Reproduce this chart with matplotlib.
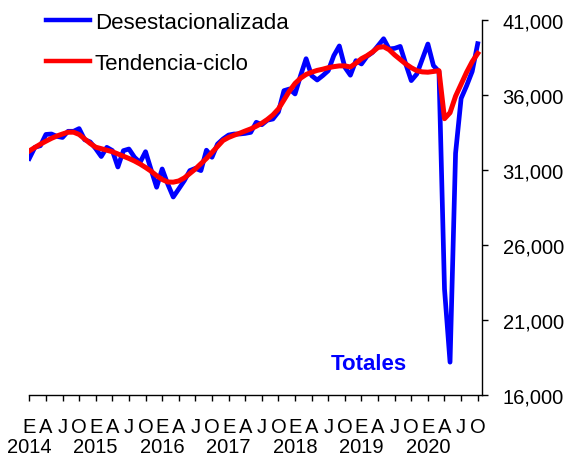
import numpy as np
import matplotlib
matplotlib.use("Agg")
import matplotlib.pyplot as plt
import matplotlib.transforms as mtransforms
from matplotlib.ticker import FuncFormatter

plt.rcParams['font.family'] = ['Liberation Sans', 'DejaVu Sans']

# monthly series, Jan 2014 .. Oct 2020
desestacionalizada = [
    31750, 32490, 32600, 33350, 33380, 33220, 33150, 33560, 33560, 33740, 33000, 32850,  # 2014
    32400, 31880, 32490, 32280, 31180, 32270, 32380, 31830, 31480, 32200, 31000, 29830,  # 2015
    31050, 30050, 29180, 29720, 30270, 30940, 31090, 30940, 32300, 31830, 32710, 33050,  # 2016
    33310, 33380, 33380, 33420, 33490, 34160, 34000, 34300, 34380, 34850, 36270, 36380,  # 2017
    36050, 37270, 38400, 37270, 36980, 37270, 37600, 38600, 39250, 37830, 37300, 38270,  # 2018
    38050, 38560, 38820, 39270, 39730, 39050, 39090, 39220, 38050, 36940, 37380, 38380,  # 2019
    39380, 37940, 37550, 23050, 18170, 32100, 35750, 36600, 37550, 39400,                # 2020
]
tendencia_ciclo = [
    32250, 32480, 32700, 32900, 33090, 33250, 33380, 33500, 33500, 33350, 33050, 32750,
    32500, 32400, 32300, 32200, 32050, 31900, 31750, 31580, 31380, 31150, 30900, 30600,
    30350, 30180, 30170, 30250, 30450, 30750, 31050, 31400, 31750, 32150, 32550, 32950,
    33150, 33300, 33430, 33580, 33720, 33900, 34100, 34350, 34650, 35050, 35650, 36250,
    36750, 37100, 37350, 37500, 37620, 37700, 37800, 37870, 37920, 37920, 37850, 38100,
    38400, 38600, 38850, 39150, 39200, 39000, 38650, 38350, 38050, 37800, 37600, 37520,
    37500, 37550, 37600, 34400, 34800, 35900, 36700, 37500, 38200, 38750,
]
quarter_labels = ["E", "A", "J", "O"]
years = [2014, 2015, 2016, 2017, 2018, 2019, 2020]
y_ticks = [16000, 21000, 26000, 31000, 36000, 41000]

W, H = 568, 456
fig = plt.figure(figsize=(W / 100, H / 100), dpi=100)
ax = fig.add_axes([29.3 / W, 1 - 395.7 / H, (481.7 - 29.3) / W, (395.7 - 20.7) / H])

x = np.arange(len(desestacionalizada))
ax.plot(x, desestacionalizada, color="#0000ff", lw=3.4, solid_joinstyle="round",
        label="Desestacionalizada", zorder=2)
ax.plot(x, tendencia_ciclo, color="#ff0000", lw=3.6, solid_joinstyle="round",
        label="Tendencia-ciclo", zorder=3)

ax.set_xlim(0, len(x) - 1 + 0.72)
ax.set_ylim(y_ticks[0], y_ticks[-1])

# x axis: a tick every 3 months (E A J O), year under January
ticks = np.arange(0, len(x), 3)
ax.set_xticks(ticks)
ax.set_xticklabels([quarter_labels[i % 4] for i in range(len(ticks))], fontsize=14.5)
ax.tick_params(axis="x", direction="out", length=4, width=1, pad=12)

trans = mtransforms.blended_transform_factory(ax.transData, fig.transFigure)
for i, yr in enumerate(years):
    ax.text(i * 12, 1 - 453.5 / H, str(yr), transform=trans, fontsize=14.5,
            ha="center", va="baseline")

# y axis on the right
ax.yaxis.tick_right()
ax.set_yticks(y_ticks)
ax.yaxis.set_major_formatter(FuncFormatter(lambda v, p: "{:,}".format(int(v))))
ax.tick_params(axis="y", direction="out", length=4, width=1, pad=11, labelsize=14.5)

for s in ["top", "left"]:
    ax.spines[s].set_visible(False)
for s in ["bottom", "right"]:
    ax.spines[s].set_linewidth(1.0)

ax.text((331 - 29.3) / (481.7 - 29.3), 1 - (370 - 20.7) / 375, "Totales",
        transform=ax.transAxes, color="#0000ff", fontsize=16, fontweight="bold",
        va="baseline", ha="left")

leg = ax.legend(loc="upper left", bbox_to_anchor=(46 / W, 1 - 13 / H),
                bbox_transform=fig.transFigure, frameon=False, fontsize=16,
                handlelength=2.0, handletextpad=0.2, labelspacing=0.9, borderpad=0,
                borderaxespad=0)
for line in leg.get_lines():
    line.set_linewidth(3.2)

fig.savefig("out.png", dpi=100)
